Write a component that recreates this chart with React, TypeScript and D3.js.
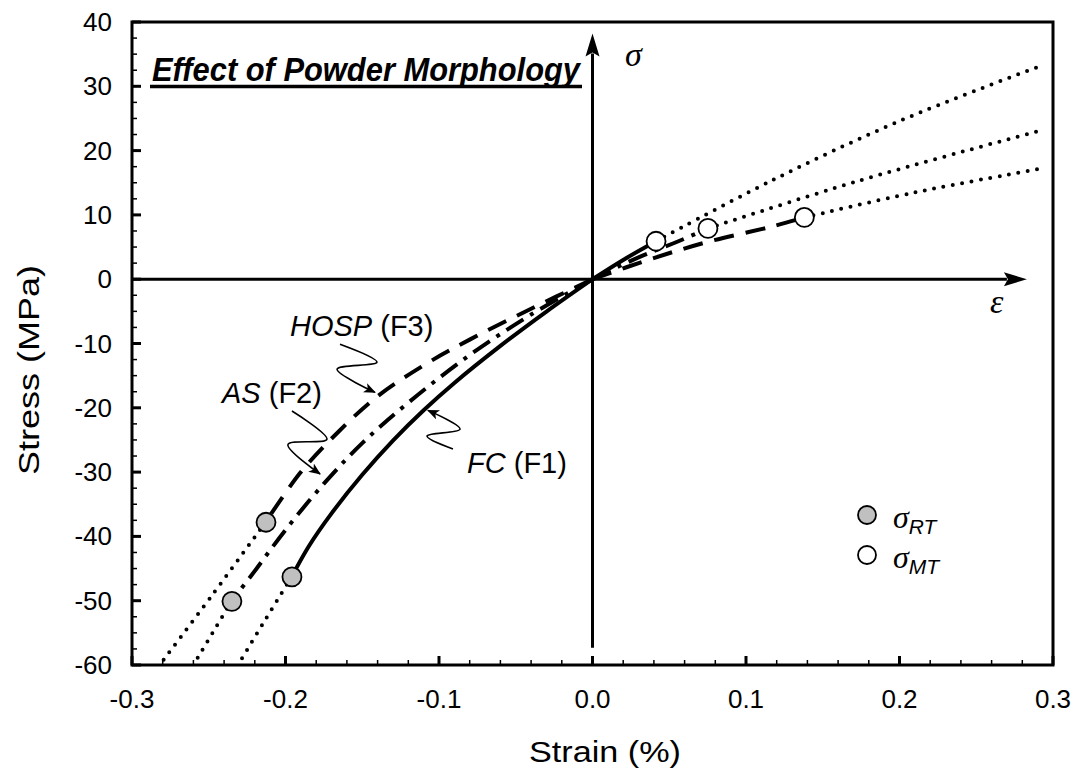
import React from 'react';
import * as d3 from 'd3';

const W = 1079;
const H = 780;

// axis domains and ticks
const X_DOMAIN: [number, number] = [-0.3, 0.3];
const Y_DOMAIN: [number, number] = [-60, 40];
const X_TICKS = [-0.3, -0.2, -0.1, 0.0, 0.1, 0.2, 0.3];
const X_TICK_LABELS = ['-0.3', '-0.2', '-0.1', '0.0', '0.1', '0.2', '0.3'];
const Y_TICKS = [40, 30, 20, 10, 0, -10, -20, -30, -40, -50, -60];
const Y_TICK_LABELS = ['40', '30', '20', '10', '0', '-10', '-20', '-30', '-40', '-50', '-60'];

// FC (F1) – solid
const fcComp: [number, number][] = [[0, 0], [-0.03, -5.04], [-0.06, -10.38], [-0.09, -16.14], [-0.11, -20.38], [-0.13, -25.1], [-0.15, -30.42], [-0.17, -36.42], [-0.185, -41.6], [-0.196, -46.3]];
const fcTens: [number, number][] = [[0, 0], [0.02, 3.0], [0.0414, 5.9]];
const fcCompDot: [number, number][] = [[-0.196, -46.3], [-0.214, -53.3], [-0.231, -60]];
const fcTensDot: [number, number][] = [[0.0414, 5.9], [0.1156, 15.2], [0.2, 24.6], [0.29, 33]];

// AS (F2) – dash-dot
const asComp: [number, number][] = [[0, 0], [-0.04, -5.5], [-0.08, -11.8], [-0.12, -19.2], [-0.15, -25.5], [-0.175, -31.8], [-0.2, -39], [-0.222, -46], [-0.235, -50]];
const asTens: [number, number][] = [[0, 0], [0.03, 3.4], [0.056, 5.9], [0.0752, 7.9]];
const asCompDot: [number, number][] = [[-0.235, -50], [-0.2475, -55], [-0.26, -60]];
const asTensDot: [number, number][] = [[0.0752, 7.9], [0.172, 15.2], [0.29, 23]];

// HOSP (F3) – dashed
const hospComp: [number, number][] = [[0, 0], [-0.04, -4.6], [-0.08, -9.4], [-0.11, -13.4], [-0.14, -18.2], [-0.165, -23.6], [-0.19, -30.0], [-0.213, -37.8]];
const hospTens: [number, number][] = [[0, 0], [0.0375, 3.1], [0.075, 5.8], [0.117, 8.2], [0.138, 9.6]];
const hospCompDot: [number, number][] = [[-0.213, -37.8], [-0.248, -49.2], [-0.282, -60]];
const hospTensDot: [number, number][] = [[0.138, 9.6], [0.21, 13.5], [0.29, 17.1]];

// strength points
const rtPoints: [number, number][] = [[-0.1958, -46.3], [-0.2349, -50.1], [-0.2127, -37.8]];
const mtPoints: [number, number][] = [[0.0414, 5.9], [0.0752, 7.9], [0.138, 9.6]];

// squiggly leader arrows (data coords)
const hospArrow: [number, number][] = [[-0.1645, -10.1], [-0.1404, -12.9], [-0.1664, -14.0], [-0.1417, -17.6]];
const asArrow: [number, number][] = [[-0.1958, -20.5], [-0.173, -24.9], [-0.1984, -25.7], [-0.1775, -30.3]];
const fcArrow: [number, number][] = [[-0.0909, -26.4], [-0.1078, -24.4], [-0.0863, -23.3], [-0.1072, -20.4]];

const SANS = '"Liberation Sans", Arial, Helvetica, sans-serif';
const SERIF = '"Liberation Serif", "Times New Roman", serif';

export default function App() {
  const x = d3.scaleLinear().domain(X_DOMAIN).range([132, 1053]);
  const y = d3.scaleLinear().domain(Y_DOMAIN).range([665, 22]);
  const line = d3.line<[number, number]>().x(d => x(d[0])).y(d => y(d[1])).curve(d3.curveCatmullRom.alpha(0.5));
  const arrowLine = d3.line<[number, number]>().x(d => x(d[0])).y(d => y(d[1])).curve(d3.curveCatmullRom.alpha(0.5));

  const xMinor = d3.range(-0.28, 0.2901, 0.02);
  const yMinor = d3.range(-57.5, 40, 2.5);

  const x0 = x(0), y0 = y(0);
  const vTop = y(38.2), vBot = y(-57.3);
  const hRight = x(0.283);

  const dotted = { fill: 'none', stroke: '#000', strokeWidth: 4, strokeDasharray: '0,9.5', strokeLinecap: 'round' as const };

  return (
    <svg width={W} height={H} style={{ position: 'absolute', left: 0, top: 0, background: '#fff' }}>
      <defs>
        <marker id="ah" viewBox="0 0 12 10" refX="11" refY="5" markerWidth="12" markerHeight="10" markerUnits="userSpaceOnUse" orient="auto">
          <path d="M0,0 L12,5 L0,10 L3,5 Z" fill="#000" />
        </marker>
      </defs>
      <rect x={0} y={0} width={W} height={H} fill="#fff" />

      {/* frame */}
      <rect x={x(-0.3)} y={y(40)} width={x(0.3) - x(-0.3)} height={y(-60) - y(40)} fill="none" stroke="#000" strokeWidth={3} />

      {/* ticks */}
      {X_TICKS.map(t => <line key={'xt' + t} x1={x(t)} x2={x(t)} y1={y(-60)} y2={y(-60) - 9} stroke="#000" strokeWidth={3} />)}
      {xMinor.map(t => <line key={'xm' + t} x1={x(t)} x2={x(t)} y1={y(-60)} y2={y(-60) - 5} stroke="#000" strokeWidth={1.5} />)}
      {Y_TICKS.map(t => <line key={'yt' + t} x1={x(-0.3)} x2={x(-0.3) + 9} y1={y(t)} y2={y(t)} stroke="#000" strokeWidth={3} />)}
      {yMinor.map(t => <line key={'ym' + t} x1={x(-0.3)} x2={x(-0.3) + 5} y1={y(t)} y2={y(t)} stroke="#000" strokeWidth={1.5} />)}

      {/* tick labels */}
      {X_TICKS.map((t, i) => (
        <text key={'xl' + t} x={x(t)} y={y(-60) + 43} textAnchor="middle" fontFamily={SANS} fontSize={26}>{X_TICK_LABELS[i]}</text>
      ))}
      {Y_TICKS.map((t, i) => (
        <text key={'yl' + t} x={x(-0.3) - 20} y={y(t) + 9} textAnchor="end" fontFamily={SANS} fontSize={26}>{Y_TICK_LABELS[i]}</text>
      ))}

      {/* axis titles */}
      <text x={605} y={762} textAnchor="middle" fontFamily={SANS} fontSize={30} textLength={152} lengthAdjust="spacingAndGlyphs">Strain (%)</text>
      <text transform={`translate(39,370) rotate(-90)`} textAnchor="middle" fontFamily={SANS} fontSize={30} textLength={210} lengthAdjust="spacingAndGlyphs">Stress (MPa)</text>

      {/* cross axes with arrows */}
      <line x1={x0} x2={x0} y1={vBot} y2={vTop + 20} stroke="#000" strokeWidth={3} />
      <path d={`M${x0},${vTop} L${x0 + 7},${vTop + 23} L${x0},${vTop + 19} L${x0 - 7},${vTop + 23} Z`} fill="#000" />
      <line x1={x(-0.3)} x2={hRight - 20} y1={y0} y2={y0} stroke="#000" strokeWidth={3} />
      <path d={`M${hRight},${y0} L${hRight - 23},${y0 - 7} L${hRight - 19},${y0} L${hRight - 23},${y0 + 7} Z`} fill="#000" />
      <text x={625} y={66} fontFamily={SERIF} fontStyle="italic" fontSize={34}>σ</text>
      <text x={990} y={313} fontFamily={SERIF} fontStyle="italic" fontSize={34}>ε</text>

      {/* title */}
      <text x={152} y={81} fontFamily={SANS} fontWeight="bold" fontStyle="italic" fontSize={33} textLength={428} lengthAdjust="spacingAndGlyphs">Effect of Powder Morphology</text>
      <line x1={150} x2={582} y1={86.5} y2={86.5} stroke="#000" strokeWidth={3.5} />

      {/* dotted extrapolations */}
      {[fcCompDot, fcTensDot, asCompDot, asTensDot, hospCompDot, hospTensDot].map((d, i) => (
        <path key={'dot' + i} d={line(d) || ''} {...dotted} />
      ))}

      {/* curves */}
      <path d={line(hospComp) || ''} fill="none" stroke="#000" strokeWidth={4} strokeDasharray="20,12" />
      <path d={line(hospTens) || ''} fill="none" stroke="#000" strokeWidth={4} strokeDasharray="20,12" />
      <path d={line(asComp) || ''} fill="none" stroke="#000" strokeWidth={4} strokeDasharray="20,8,4,8" />
      <path d={line(asTens) || ''} fill="none" stroke="#000" strokeWidth={4} strokeDasharray="20,8,4,8" />
      <path d={line(fcComp) || ''} fill="none" stroke="#000" strokeWidth={4} />
      <path d={line(fcTens) || ''} fill="none" stroke="#000" strokeWidth={4} />

      {/* points */}
      {rtPoints.map((p, i) => <circle key={'rt' + i} cx={x(p[0])} cy={y(p[1])} r={9.5} fill="#c0c0c0" stroke="#000" strokeWidth={1.8} />)}
      {mtPoints.map((p, i) => <circle key={'mt' + i} cx={x(p[0])} cy={y(p[1])} r={9.5} fill="#fff" stroke="#000" strokeWidth={1.8} />)}

      {/* leader arrows */}
      {[hospArrow, asArrow, fcArrow].map((d, i) => (
        <path key={'ar' + i} d={arrowLine(d) || ''} fill="none" stroke="#000" strokeWidth={1.6} markerEnd="url(#ah)" />
      ))}

      {/* annotations */}
      <text x={290} y={336} fontFamily={SANS} fontSize={29}><tspan fontStyle="italic">HOSP</tspan> (F3)</text>
      <text x={222} y={403} fontFamily={SANS} fontSize={29}><tspan fontStyle="italic">AS</tspan> (F2)</text>
      <text x={467} y={473} fontFamily={SANS} fontSize={29}><tspan fontStyle="italic">FC</tspan> (F1)</text>

      {/* legend */}
      <circle cx={867} cy={515} r={9} fill="#c0c0c0" stroke="#000" strokeWidth={1.8} />
      <text x={893} y={528} fontFamily={SERIF} fontStyle="italic" fontSize={32}>σ<tspan fontFamily={SANS} fontSize={21} dy={6}>RT</tspan></text>
      <circle cx={867} cy={555} r={9} fill="#fff" stroke="#000" strokeWidth={1.8} />
      <text x={893} y={568} fontFamily={SERIF} fontStyle="italic" fontSize={32}>σ<tspan fontFamily={SANS} fontSize={21} dy={6}>MT</tspan></text>
    </svg>
  );
}
